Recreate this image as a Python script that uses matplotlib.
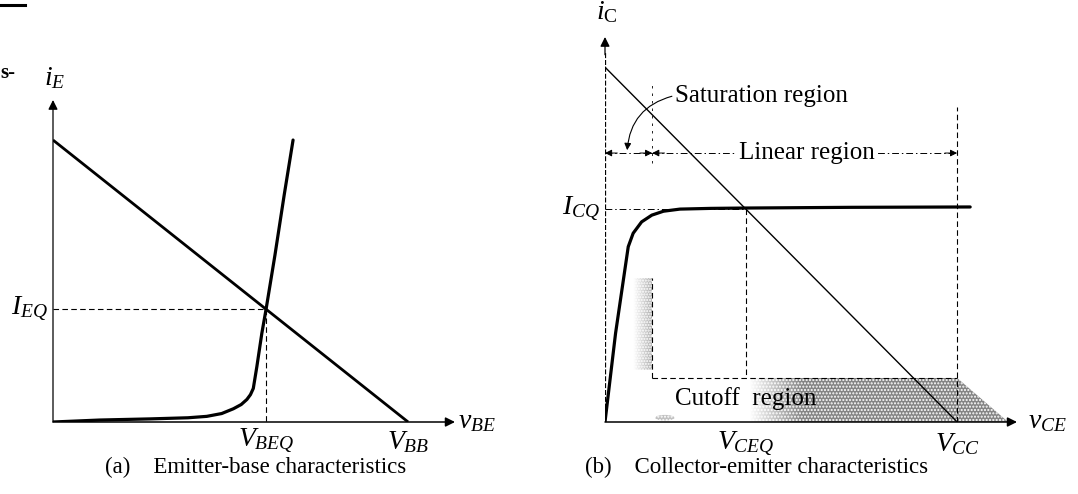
import matplotlib.pyplot as plt
import numpy as np
from matplotlib.lines import Line2D
from matplotlib.patches import Polygon, Ellipse

plt.rcParams["font.family"] = "Liberation Serif"
plt.rcParams["mathtext.fontset"] = "custom"
plt.rcParams["mathtext.rm"] = "Liberation Serif"
plt.rcParams["mathtext.it"] = "Liberation Serif:italic"
plt.rcParams["mathtext.bf"] = "Liberation Serif:bold"

# --- (a) emitter-base: load line against the diode curve ---
v_bb = 10.0          # load line x-intercept
ie_max = 10.0        # load line y-intercept (V_BB / R)
v_beq = 6.0
i_eq = 4.0
diode_v = [0.0, 1.32, 2.73, 3.8, 4.33, 4.75, 5.08, 5.3, 5.46, 5.56, 5.64, 5.74,
           5.88, 6.0, 6.25, 6.51, 6.76]
diode_i = [0.0, 0.07, 0.11, 0.15, 0.2, 0.3, 0.47, 0.62, 0.8, 0.97, 1.19, 1.96,
           3.14, 4.0, 5.92, 8.05, 10.0]
vbe_axis_max = 11.32
ie_axis_max = 11.42

# --- (b) collector-emitter: load line against the output curve ---
v_cc = 10.0
ic_max = 10.0
v_ceq = 4.0
i_cq = 6.0
v_sat = 1.34         # edge of saturation region
i_cut = 1.24         # top of cutoff region
coll_v = [0.0, 0.3, 0.66, 0.8, 1.04, 1.33, 1.66, 2.13, 3.0, 4.0, 7.0, 10.37]
coll_i = [0.0, 2.5, 4.94, 5.32, 5.64, 5.83, 5.94, 6.0, 6.02, 6.03, 6.05, 6.06]
vce_axis_max = 11.7
ic_axis_max = 10.85

W, H = 1078, 494
fig = plt.figure(figsize=(W / 100, H / 100), dpi=100)


def axes_px(x0, y0, x1, y1):
    # axes box given by left/right and bottom/top pixel rows of the canvas
    return fig.add_axes([x0 / W, (H - y0) / H, (x1 - x0) / W, (y0 - y1) / H])


def arrow(ax, start, end, lw=1.1, ms=14):
    ax.annotate("", xy=end, xytext=start,
                arrowprops=dict(arrowstyle="-|>", lw=lw, color="black",
                                mutation_scale=ms, shrinkA=0, shrinkB=0),
                annotation_clip=False)


dash = dict(color="black", lw=0.8, dashes=(5, 3))
dashdot = dict(color="black", lw=0.7, dashes=(7, 3, 1.5, 3))

# ---------------- panel (a) ----------------
axa = axes_px(53, 422, 455, 100)
axa.set_xlim(0, vbe_axis_max)
axa.set_ylim(0, ie_axis_max)
axa.axis("off")

arrow(axa, (0, 0), (vbe_axis_max, 0), lw=1.1)
arrow(axa, (0, 0), (0, ie_axis_max), lw=0.9)
axa.plot([0, v_bb], [ie_max, 0], color="black", lw=2.0, solid_capstyle="butt")
axa.plot(diode_v, diode_i, color="black", lw=2.3, solid_capstyle="round",
         solid_joinstyle="round")
axa.plot([0, v_beq], [i_eq, i_eq], **dash)
axa.plot([v_beq, v_beq], [i_eq, 0], **dash)

lab = dict(fontsize=20, color="black")
axa.text(0.05, 12.2, r"$i_E$", ha="center", va="center", **lab)
axa.text(-0.15, i_eq, r"$I_{EQ}$", ha="right", va="center", **lab)
axa.text(v_beq, -0.7, r"$V_{BEQ}$", ha="center", va="center", **lab)
axa.text(v_bb, -0.7, r"$V_{BB}$", ha="center", va="center", **lab)
axa.text(vbe_axis_max + 0.08, 0, r"$v_{BE}$", ha="left", va="center", **lab)

# ---------------- panel (b) ----------------
axb = axes_px(605, 422, 1017, 37)
axb.set_xlim(0, vce_axis_max)
axb.set_ylim(0, ic_axis_max)
axb.axis("off")

# shaded cutoff band with its slanted end under the axis arrow
grad_x = np.linspace(0, 1, 400)
ramp = np.clip((grad_x * vce_axis_max - 4.1) / 1.5, 0, 1)
rgba = np.zeros((1, grad_x.size, 4))
rgba[..., :3] = 0.4
rgba[..., 3] = 0.8 * ramp
cut_corners = [(v_sat, 0), (v_sat, i_cut), (v_cc, i_cut), (11.45, 0)]
cut_poly = Polygon(cut_corners, closed=True, facecolor="none", edgecolor="none")
axb.add_patch(cut_poly)
img = axb.imshow(rgba, extent=[0, vce_axis_max, 0, i_cut], aspect="auto",
                 interpolation="bilinear", zorder=0)
img.set_clip_path(cut_poly)
# white speckle over the whole band; it only shows where the grey is
axb.add_patch(Polygon(cut_corners, closed=True, facecolor="none", edgecolor="white",
                      hatch=".....", lw=0, zorder=0.5))

# shaded strip at the saturation edge
strip_ramp = np.clip((grad_x * vce_axis_max - 0.8) / 0.5, 0, 1)
rgba2 = np.zeros((1, grad_x.size, 4))
rgba2[..., :3] = 0.45
rgba2[..., 3] = 0.55 * strip_ramp
strip_corners = [(0.8, 1.46), (v_sat, 1.46), (v_sat, 4.06), (0.8, 4.06)]
strip_poly = Polygon(strip_corners, closed=True, facecolor="none", edgecolor="none")
axb.add_patch(strip_poly)
img2 = axb.imshow(rgba2, extent=[0, vce_axis_max, 1.46, 4.06], aspect="auto",
                  interpolation="bilinear", zorder=0)
img2.set_clip_path(strip_poly)
axb.add_patch(Polygon(strip_corners, closed=True, facecolor="none", edgecolor="white",
                      hatch="......", lw=0, zorder=0.5))
axb.add_patch(Ellipse((1.7, 0.12), 0.55, 0.16, facecolor="0.6", edgecolor="none",
                      alpha=0.6, zorder=0))
axb.set_xlim(0, vce_axis_max)
axb.set_ylim(0, ic_axis_max)

# axes: faint dashed vertical axis, solid horizontal axis
axb.plot([0, 0], [0, ic_axis_max - 0.4], color="black", lw=0.9, dashes=(4, 1.5))
arrow(axb, (0, ic_axis_max - 0.5), (0, ic_axis_max), lw=0.9)
arrow(axb, (0, 0), (vce_axis_max, 0), lw=1.1)

axb.plot([0, v_cc], [ic_max, 0], color="black", lw=1.0)
axb.plot(coll_v, coll_i, color="black", lw=2.3, solid_capstyle="round",
         solid_joinstyle="round")

axb.plot([0, v_ceq], [i_cq, i_cq], **dashdot)
axb.plot([v_ceq, v_ceq], [i_cq, i_cut], **dash)
axb.plot([v_sat, v_cc], [i_cut, i_cut], **dash)
axb.plot([v_sat, v_sat], [i_cut, 4.06], **dash)
axb.plot([v_sat, v_sat], [7.3, 9.55], color="black", lw=0.6, dashes=(3, 6))
axb.plot([v_cc, v_cc], [0, 8.87], **dash)

# region markers
y_lin = 7.58
axb.plot([0, v_sat], [y_lin, y_lin], **dashdot)
axb.plot([v_sat, v_cc], [y_lin, y_lin], **dashdot)
for tip, back in [((0, y_lin), (0.35, y_lin)), ((v_sat, y_lin), (v_sat - 0.35, y_lin)),
                  ((v_sat, y_lin), (v_sat + 0.35, y_lin)), ((v_cc, y_lin), (v_cc - 0.35, y_lin))]:
    arrow(axb, back, tip, lw=0.7, ms=10)

txt = dict(fontsize=18, color="black")
axb.text(5.74, y_lin, "Linear region", ha="center", va="center",
         bbox=dict(facecolor="white", edgecolor="none", pad=1.5), **txt)
axb.text(2.0, 9.2, "Saturation region", ha="left", va="center", **txt)
axb.annotate("", xy=(0.63, 7.66), xytext=(1.9, 9.18),
             arrowprops=dict(arrowstyle="-|>", lw=0.8, color="black", mutation_scale=10,
                             connectionstyle="arc3,rad=0.35", shrinkA=0, shrinkB=0))
axb.text(1.99, 0.66, "Cutoff  region", ha="left", va="center", **txt)

axb.text(0.06, 11.55, r"$i_{\rm C}$", ha="center", va="center", **lab)
axb.text(-0.15, i_cq, r"$I_{CQ}$", ha="right", va="center", **lab)
axb.text(v_ceq, -0.62, r"$V_{CEQ}$", ha="center", va="center", **lab)
axb.text(v_cc, -0.62, r"$V_{CC}$", ha="center", va="center", **lab)
axb.text(vce_axis_max + 0.3, 0, r"$v_{CE}$", ha="left", va="center", **lab)

# captions and stray page marks
cap = dict(fontsize=16.5, color="black", va="center", ha="left")
fig.text(105 / W, 1 - 467 / H, "(a)    Emitter-base characteristics", **cap)
fig.text(585 / W, 1 - 467 / H, "(b)    Collector-emitter characteristics", **cap)
fig.text(0 / W, 1 - 73 / H, "s-", fontsize=15, fontweight="bold", ha="left", va="center")
fig.add_artist(Line2D([0, 25 / W], [1 - 5 / H, 1 - 5 / H], color="black", lw=2.2))

fig.savefig("out.png", dpi=100, facecolor="white")
